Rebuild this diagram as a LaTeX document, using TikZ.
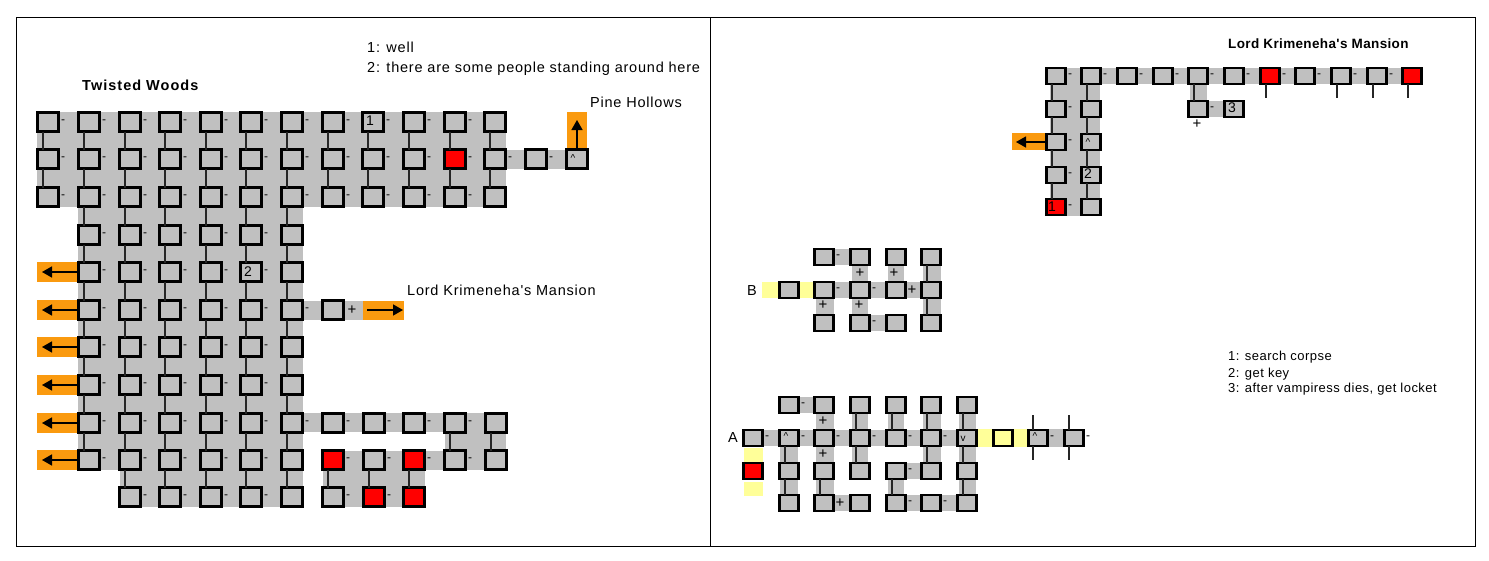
\documentclass[tikz,border=0pt]{standalone}
\usepackage{fontspec}
\setmainfont{Liberation Sans}
\newfontfamily\tagfont[LetterSpace=5.4]{Liberation Sans}
\newfontfamily\notefont[LetterSpace=3.6]{Liberation Sans}
\newfontfamily\headfontL[LetterSpace=7]{Liberation Sans}
\newfontfamily\headfontR[LetterSpace=2.7]{Liberation Sans}
\usetikzlibrary{arrows.meta}
\definecolor{bandgray}{HTML}{C0C0C0}
\definecolor{exitorange}{HTML}{FA9A0F}
\definecolor{paleyellow}{HTML}{FFFF99}
\tikzset{
  bigroom/.style={draw=black,fill=bandgray,line width=3.2pt,minimum width=21pt,minimum height=19pt,inner sep=0pt,outer sep=0pt},
  smallroom/.style={draw=black,fill=bandgray,line width=2.6pt,minimum width=18.5pt,minimum height=16pt,inner sep=0pt,outer sep=0pt},
  redfill/.style={fill=red},
  yellowfill/.style={fill=paleyellow},
  hop/.style={inner sep=0pt,font=\fontsize{12}{12}\selectfont},
  plus/.style={inner sep=0pt,font=\fontsize{15}{15}\selectfont},
  link/.style={draw=black!85,line width=1.4pt},
  thinlink/.style={draw=black!85,line width=1.1pt},
  band/.style={fill=bandgray},
  exitband/.style={fill=exitorange},
  yellowband/.style={fill=paleyellow},
  exit/.style={draw=black,line width=1.4pt,-{Triangle[length=10pt,width=11pt]}},
  tag/.style={inner sep=0pt,anchor=base west,font=\fontsize{14.5}{16}\tagfont},
  notetag/.style={inner sep=0pt,anchor=base west,font=\fontsize{13}{14}\notefont},
  headtagL/.style={inner sep=0pt,anchor=base west,font=\fontsize{14.5}{16}\headfontL\bfseries},
  headtagR/.style={inner sep=0pt,anchor=base west,font=\fontsize{13.5}{16}\headfontR\bfseries},
  roomtag/.style={inner sep=0pt,font=\fontsize{14}{16}\selectfont},
  carettag/.style={inner sep=0pt,font=\fontsize{10}{12}\selectfont},
}
\newcommand\rooms[3][bigroom]{\foreach \x in {#2}{\foreach \y in {#3}{\node[#1] (n\x-\y) at (\x,\y) {};}}}
\newcommand\hops[3][15]{\foreach \x in {#2}{\foreach \y in {#3}{\node[hop] (d\x-\y) at ([xshift=#1 pt]n\x-\y.center) {-};}}}
\newcommand\links[3][5]{\foreach \x in {#2}{\foreach \a/\b in {#3}{\draw[link] ([xshift=-#1 pt]n\x-\a.south) -- ([xshift=-#1 pt]n\x-\b.north);}}}
\newcommand\thinlinks[3][4]{\foreach \x in {#2}{\foreach \a/\b in {#3}{\draw[thinlink] ([xshift=-#1 pt]n\x-\a.south) -- ([xshift=-#1 pt]n\x-\b.north);}}}
\begin{document}
\begin{tikzpicture}[x=1pt,y=-1pt]
\useasboundingbox (0,0) rectangle (1489,560);
\fill[white] (0,0) rectangle (1489,560);
% ---------- left panel bands
\fill[band] (37,112) rectangle (506,207);
\fill[band] (78,207) rectangle (303,470);
\fill[band] (120,470) rectangle (303,507);
\fill[band] (506,150) rectangle (577,169);
\fill[band] (303,301) rectangle (363,320);
\fill[band] (303,413) rectangle (506,432);
\fill[band] (445,413) rectangle (506,470);
\fill[band] (333,451) rectangle (445,470);
\fill[band] (323,451) rectangle (425,507);
\fill[exitband] (567,112) rectangle (587,150);
\fill[exitband] (363,301) rectangle (404,320);
\foreach \y in {272,310,347,385,423,460}{\fill[exitband] (37,\y-10) rectangle (78,\y+10);}
% ---------- right top bands
\fill[band] (1056,68) rectangle (1412,84);
\fill[band] (1050,68) rectangle (1100,216);
\fill[band] (1190,84) rectangle (1207,101);
\fill[band] (1198,101) rectangle (1234,117);
\fill[exitband] (1012,133) rectangle (1046,150);
% ---------- B bands
\fill[yellowband] (762,282) rectangle (813,298);
\fill[band] (824,249) rectangle (860,265);
\fill[band] (852,257) rectangle (868,323);
\fill[band] (888,257) rectangle (904,290);
\fill[band] (923,257) rectangle (941,323);
\fill[band] (824,282) rectangle (931,298);
\fill[band] (816,290) rectangle (834,323);
\fill[band] (860,315) rectangle (896,331);
% ---------- A bands
\fill[yellowband] (744,448) rectangle (763,462);
\fill[yellowband] (744,482) rectangle (763,496);
\fill[yellowband] (977,429) rectangle (1027,447);
\fill[band] (753,430) rectangle (967,446);
\fill[band] (1038,429) rectangle (1074,447);
\fill[band] (789,397) rectangle (824,413);
\fill[band] (816,405) rectangle (834,503);
\fill[band] (852,405) rectangle (868,471);
\fill[band] (888,405) rectangle (904,438);
\fill[band] (923,405) rectangle (941,471);
\fill[band] (959,405) rectangle (976,503);
\fill[band] (780,438) rectangle (798,503);
\fill[band] (888,471) rectangle (904,503);
\fill[band] (896,463) rectangle (931,479);
\fill[band] (824,495) rectangle (860,511);
\fill[band] (896,495) rectangle (967,511);
% ---------- left panel rooms
\rooms{48,89,130,170,211,251,292,333,373,414,455,495}{122,197}
\rooms{48,89,130,170,211,251,292,333,373,414,495,536,577}{159}
\rooms[bigroom,redfill]{455}{159}
\rooms{89,130,170,211,251,292}{235,272,310,347,385,423,460}
\rooms{130,170,211,251,292}{497}
\rooms{333}{310}
\rooms{333,374,414,455,496}{423}
\rooms{374,455,496}{460}
\rooms[bigroom,redfill]{333,414}{460}
\rooms{333}{497}
\rooms[bigroom,redfill]{374,414}{497}
% ---------- right top rooms
\rooms[smallroom]{1056,1091,1127,1163,1198,1234,1305,1341,1377}{76}
\rooms[smallroom,redfill]{1270,1412}{76}
\rooms[smallroom]{1056,1091}{109,142,175}
\rooms[smallroom,redfill]{1056}{207}
\rooms[smallroom]{1091}{207}
\rooms[smallroom]{1198,1234}{109}
% ---------- B rooms
\rooms[smallroom]{824,860,896,931}{257,290,323}
\rooms[smallroom]{789}{290}
% ---------- A rooms
\rooms[smallroom]{789,824,860,896,931,967}{405,438,471,503}
\rooms[smallroom]{753,1038,1074}{438}
\rooms[smallroom,yellowfill]{1003}{438}
\rooms[smallroom,redfill]{753}{471}
% ---------- left panel connectors
\links{48,89,130,170,211,251,292,333,373,414,455,495}{122/159,159/197}
\links{89,130,170,211,251,292}{197/235,235/272,272/310,310/347,347/385,385/423,423/460}
\links{130,170,211,251,292}{460/497}
\links{455,496}{423/460}
\links{333}{460/497}
\links{374}{460/497}
\links{414}{460/497}
\hops{48,89,130,170,211,251,292,333,373,414,455}{122,197}
\hops{48,89,130,170,211,251,292,333,373,414,455,495,536}{159}
\hops{89,130,170,211,251}{235,272,310,347,385,423,460}
\hops{130,170,211,251}{497}
\hops{292}{310,423}
\hops{333,374,414,455}{423}
\hops{333,374,414,455}{460}
\hops{333,374}{497}
\node[plus] (plusA) at ([xshift=19pt]n333-310.center) {+};
% exits left panel
\coordinate (topexit) at (577,120);
\draw[exit] (n577-159.north) -- (topexit);
\coordinate (eaststart) at (367,310);
\coordinate (eastexit) at (403,310);
\draw[exit] (eaststart) -- (eastexit);
\foreach \y in {272,310,347,385,423,460}{
  \coordinate (west\y) at (42,\y);
  \draw[exit] (n89-\y.west) -- (west\y);
}
% ---------- right top connectors
\thinlinks{1056,1091}{76/109,109/142,142/175,175/207}
\thinlinks{1198}{76/109}
\hops[14]{1056,1091,1127,1163,1198,1234,1270,1305,1341,1377}{76}
\hops[14]{1056}{109,142,175,207}
\hops[14]{1198}{109}
\foreach \x in {1270,1341,1377,1412}{
  \coordinate (tick\x) at (\x-4,98);
  \draw[thinlink] ([xshift=-4pt]n\x-76.south) -- (tick\x);
}
\coordinate (westmansion) at (1016,142);
\draw[exit] (n1056-142.west) -- (westmansion);
\node[plus] (plusB) at (1197,124) {+};
% ---------- B connectors
\thinlinks{931}{257/290,290/323}
\hops[14]{824}{257,290}
\hops[14]{860}{290,323}
\node[plus] (plusC) at (860,273) {+};
\node[plus] (plusD) at (894,273) {+};
\node[plus] (plusE) at (912,290) {+};
\node[plus] (plusF) at (823,305) {+};
\node[plus] (plusG) at (859,305) {+};
% ---------- A connectors
\thinlinks{860,896,931,967}{405/438}
\thinlinks{789}{438/471,471/503}
\thinlinks{824}{471/503}
\thinlinks{860,931,967}{438/471}
\thinlinks{896,967}{471/503}
\hops[14]{789}{405}
\hops[14]{753,789,824,860,896,931}{438}
\hops[14]{896}{471,503}
\hops[14]{931}{503}
\hops[14]{1038,1074}{438}
\node[plus] (plusH) at (823,421) {+};
\node[plus] (plusI) at (823,454) {+};
\node[plus] (plusJ) at (840,503) {+};
\foreach \x in {1038,1074}{
  \coordinate (up\x) at (\x-5,415);
  \coordinate (dn\x) at (\x-5,460);
  \draw[thinlink] ([xshift=-5pt]n\x-438.north) -- (up\x);
  \draw[thinlink] ([xshift=-5pt]n\x-438.south) -- (dn\x);
}
% ---------- room marks
\node[roomtag] (mark1) at (370,121) {1};
\node[roomtag] (mark2) at (248,272) {2};
\node[carettag] (mark3) at (573,158) {\char`\^};
\node[carettag] (mark4) at (1088,142) {\char`\^};
\node[roomtag] (mark5) at (1088,174) {2};
\node[roomtag] (mark6) at (1232,108) {3};
\node[roomtag] (mark7) at (1052,207) {1};
\node[carettag] (mark8) at (786,436) {\char`\^};
\node[carettag] (mark9) at (963,439) {v};
\node[carettag] (mark10) at (1035,436) {\char`\^};
% ---------- texts
\node[tag] (noteA) at (367,52.5) {1: well};
\node[tag] (noteB) at (367,72) {2: there are some people standing around here};
\node[headtagL] (headL) at (82,90.5) {Twisted Woods};
\node[tag] (pine) at (590,107.5) {Pine Hollows};
\node[tag] (mansion) at (407,295.5) {Lord Krimeneha's Mansion};
\node[headtagR] (headR) at (1228,48.5) {Lord Krimeneha's Mansion};
\node[notetag] (noteC) at (1228,360.5) {1: search corpse};
\node[notetag] (noteD) at (1228,377.5) {2: get key};
\node[notetag] (noteE) at (1228,392.5) {3: after vampiress dies, get locket};
\node[tag] (labA) at (728,442) {A};
\node[tag] (labB) at (747,295) {B};
% ---------- frame
\draw[black,line width=1pt] (16.5,17.5) rectangle (1475.5,546.5);
\draw[black,line width=1pt] (710.5,17.5) -- (710.5,546.5);
\end{tikzpicture}
\end{document}
